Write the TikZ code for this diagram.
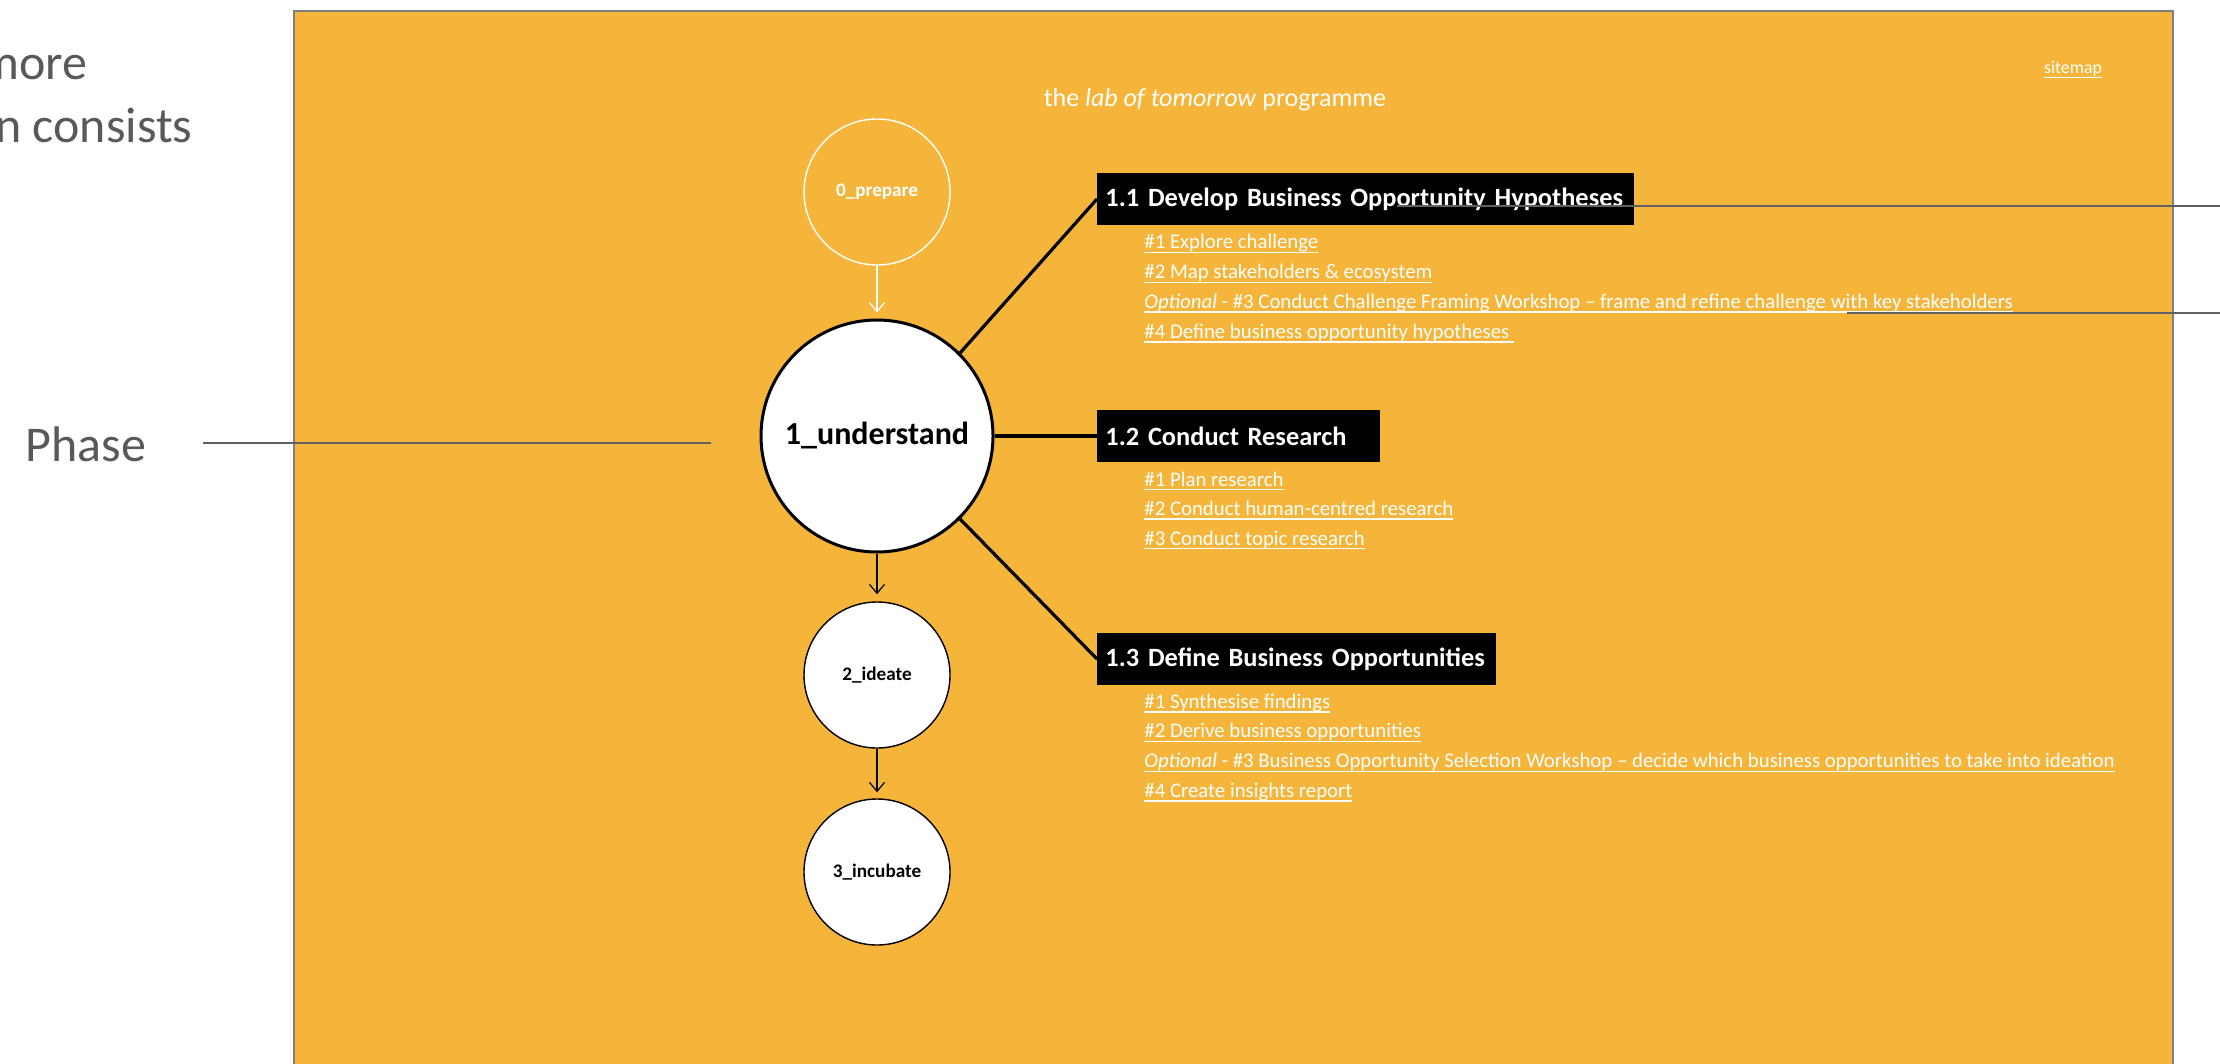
\documentclass[tikz,border=0pt]{standalone}
\usepackage{fontspec}
\setmainfont{Carlito}
\usetikzlibrary{arrows.meta}

\definecolor{labyellow}{HTML}{F5B53A}
\definecolor{notegray}{HTML}{58595B}
\definecolor{linegray}{HTML}{5F6062}
\definecolor{framegray}{HTML}{7F7F7F}

% underlined link text, rule at a fixed depth
\newcommand\linktext[1]{\setbox0\hbox{#1}\rlap{\rule[-2.2pt]{\wd0}{0.75pt}}\box0}

\tikzset{
	phase/.style={circle, draw=black, fill=white, line width=0.7pt, minimum size=73pt,
		inner sep=0pt, font=\fontsize{9.6}{11}\selectfont\bfseries},
	taskbox/.style={rectangle, fill=black, text=white, anchor=west, align=left,
		minimum height=26pt, inner xsep=4pt, inner ysep=0pt,
		font=\fontsize{13.2}{15}\selectfont\bfseries},
	item/.style={anchor=base west, inner sep=0pt, text=white,
		font=\fontsize{10.4}{12}\selectfont},
	note/.style={inner sep=0pt, text=notegray, font=\fontsize{25}{30}\selectfont},
	annot/.style={draw=linegray, line width=1pt},
	flow/.style={-{Straight Barb[length=4.5pt,width=7.5pt]}, line width=0.6pt},
	spoke/.style={line width=1.6pt}
}

\begin{document}
\begin{tikzpicture}[x=0.5pt, y=-0.5pt]
	
	\useasboundingbox (0,0) rectangle (2220,1064);
	
	% Slide notes
	\node[note, anchor=base east] (more) at (88,80) {more};
	\node[note, anchor=base east] (consists) at (193,143) {n consists};
	\node[note, anchor=base west] (phaselabel) at (25,461) {Phase};
	
	% Frame
	\fill[labyellow] (294,11) rectangle (2173,1064);
	\draw[framegray, line width=1pt] (294,1064) -- (294,11) -- (2173,11) -- (2173,1064);
	
	\node[anchor=base, text=white, font=\fontsize{13}{15}\selectfont] (title) at (1215,107)
		{the \textit{lab of tomorrow} programme};
	\node[item, anchor=base, font=\fontsize{8.9}{10}\selectfont] (sitemap) at (2073,74)
		{\linktext{sitemap}};
	
	% Phases
	\node[phase, draw=white, fill=none, text=white] (prep) at (877,192) {0\_prepare};
	\node[phase, minimum size=116pt, line width=1.5pt,
		font=\fontsize{16}{18}\selectfont\bfseries] (underst) at (877,436) {1\_understand};
	\node[phase] (ideate) at (877,675) {2\_ideate};
	\node[phase] (incub) at (877,872) {3\_incubate};
	
	\draw[flow, white, shorten >=3pt] (prep) -- (underst);
	\draw[flow, shorten >=3.5pt] (underst) -- (ideate);
	\draw[flow, shorten >=3pt] (ideate) -- (incub);
	
	% Steps
	\node[taskbox, text width=260.5pt] (t11) at (1097,199) {1.1 Develop Business Opportunity Hypotheses};
	\node[taskbox, text width=133.5pt] (t12) at (1097,436) {1.2 Conduct Research};
	\node[taskbox, text width=191.5pt] (t13) at (1097,659) {1.3 Define Business Opportunities};
	
	\draw[spoke] (underst.45) -- (t11.west);
	\draw[spoke] (underst.east) -- (t12.west);
	\draw[spoke] (underst.-45) -- (t13.west);
	
	% Activities
	\foreach \txt [count=\i] in {{\#1 Explore challenge}, {\#2 Map stakeholders \& ecosystem},
		{\textit{Optional} - \#3 Conduct Challenge Framing Workshop -- frame and refine challenge with key stakeholders},
		{\#4 Define business opportunity hypotheses\ }}
		\node[item] (a\i) at (1144,{219.3+29.7*\i}) {\linktext{\txt}};
	\foreach \txt [count=\i] in {{\#1 Plan research}, {\#2 Conduct human-centred research},
		{\#3 Conduct topic research}}
		\node[item] (b\i) at (1144,{456.5+29.5*\i}) {\linktext{\txt}};
	\foreach \txt [count=\i] in {{\#1 Synthesise findings}, {\#2 Derive business opportunities},
		{\textit{Optional} - \#3 Business Opportunity Selection Workshop -- decide which business opportunities to take into ideation},
		{\#4 Create insights report}}
		\node[item] (c\i) at (1144,{678.5+29.7*\i}) {\linktext{\txt}};
	
	% Annotation lines
	\coordinate (phasetip) at (711,443);
	\draw[annot] ([xshift=28.5pt]phaselabel.east |- phasetip) -- (phasetip);
	\coordinate (stepstart) at (1397,206);
	\coordinate (stepend) at (2220,206);
	\draw[annot] (stepstart) -- (stepend);
	\coordinate (actstart) at (1847,313);
	\coordinate (actend) at (2220,313);
	\draw[annot] (actstart) -- (actend);
	
\end{tikzpicture}
\end{document}
